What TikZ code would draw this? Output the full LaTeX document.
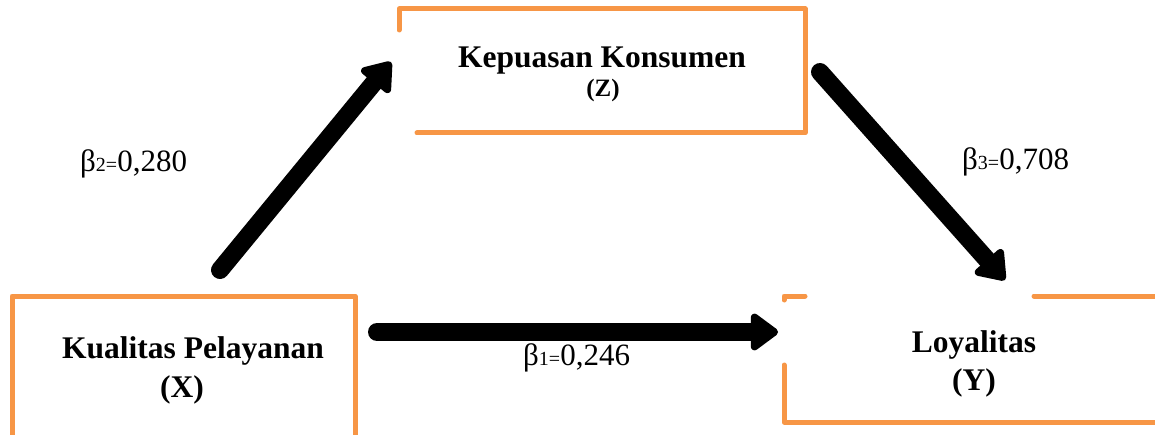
\documentclass[tikz,border=0pt]{standalone}
\usepackage{fontspec}
\setmainfont{Liberation Serif}
\usetikzlibrary{arrows.meta}
\definecolor{boxorange}{HTML}{F79646}
\begin{document}
\begin{tikzpicture}[x=1pt,y=-1pt,
  frame/.style={draw=boxorange, line width=5pt, line cap=round, line join=round},
  conn/.style={line width=18pt, line cap=round, -{Triangle[round,length=30pt,width=42pt]}},
  title/.style={font=\fontsize{31.5}{36}\selectfont\bfseries, anchor=base, inner sep=0pt},
  coef/.style={font=\fontsize{31}{36}\selectfont, anchor=base west, inner sep=0pt}]
\useasboundingbox (0,0) rectangle (1155,435);
\clip (0,0) rectangle (1155,435);
% boxes
\draw[frame] (399,30) -- (399,9) -- (805,9) -- (805,133) -- (417,133);
\draw[frame] (12,445) -- (12,296) -- (355,296) -- (355,445);
\draw[frame] (784,300) -- (784,296) -- (805,296);
\draw[frame] (784,365) -- (784,422) -- (1170,422);
\draw[frame] (1034,296) -- (1170,296);
% texts
\node[title] (zname) at (602,68) {Kepuasan Konsumen};
\node[title, font=\fontsize{25}{30}\selectfont\bfseries] (zvar) at (603,97) {(Z)};
\node[title] (xname) at (193,358) {Kualitas Pelayanan};
\node[title] (xvar) at (182,397) {(X)};
\node[title] (yname) at (974,352) {Loyalitas};
\node[title] (yvar) at (974,390) {(Y)};
\node[coef] (b2) at (80,172) {β{\fontsize{20}{24}\selectfont 2=}0,280};
\node[coef] (b3) at (962,170) {β{\fontsize{20}{24}\selectfont 3=}0,708};
\node[coef] (b1) at (523,365) {β{\fontsize{20}{24}\selectfont 1=}0,246};
% connectors
\coordinate (a1s) at (220,270); \coordinate (a1e) at (391,62);
\coordinate (a2s) at (820,72);  \coordinate (a2e) at (1005,280);
\coordinate (a3s) at (377,332); \coordinate (a3e) at (778,332);
\draw[conn] (a1s) -- (a1e);
\draw[conn] (a2s) -- (a2e);
\draw[conn] (a3s) -- (a3e);
\end{tikzpicture}
\end{document}
